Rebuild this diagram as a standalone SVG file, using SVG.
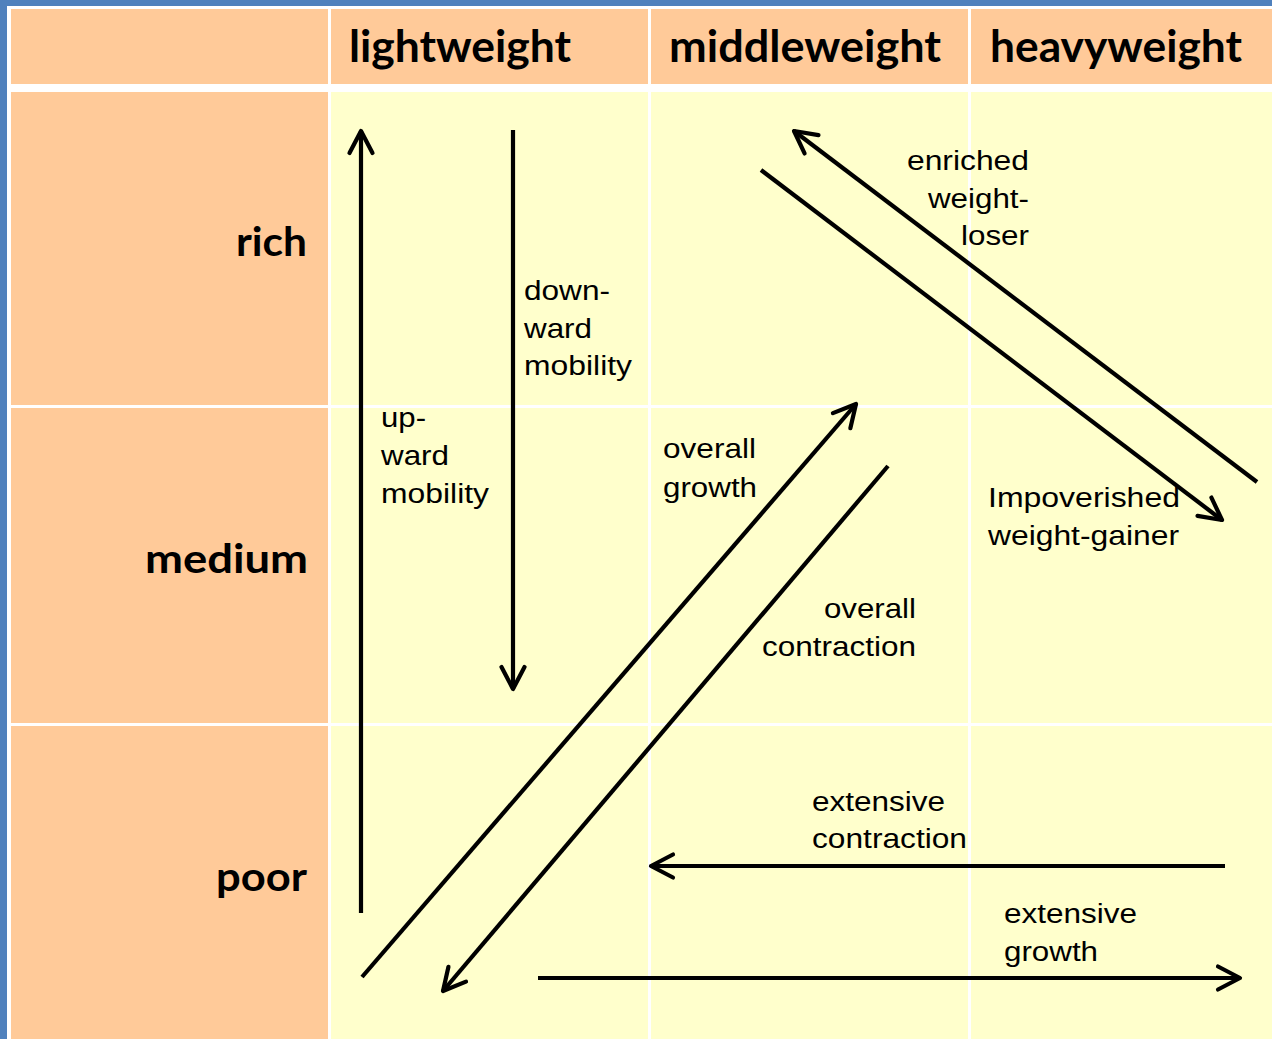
<svg xmlns="http://www.w3.org/2000/svg" width="1272" height="1039" viewBox="0 0 1272 1039">
<style>
.hd{fill:#FFCA99}
.bd{fill:#FFFFCC}
.ht{font-family:Lato,"Open Sans","Liberation Sans",sans-serif;font-weight:bold;font-size:44px;fill:#000}
.rt{font-family:Lato,"Open Sans","Liberation Sans",sans-serif;font-weight:bold;font-size:41px;fill:#000}
.lt{font-family:"Liberation Sans",Arial,sans-serif;font-size:27.5px;fill:#000}
.ar{fill:none;stroke:#000;stroke-width:4.2;marker-end:url(#ah)}
</style>
<defs>
<marker id="ah" markerUnits="userSpaceOnUse" markerWidth="40" markerHeight="40" viewBox="-30 -20 40 40" refX="0" refY="0" orient="auto">
<path d="M -22 -11.5 L 0 0 L -22 11.5" fill="none" stroke="#000" stroke-width="4.2" stroke-linecap="round" stroke-linejoin="round"/>
</marker>
</defs>
<rect x="0" y="0" width="1272" height="1039" fill="#FFFFFF"/>
<rect x="0" y="0" width="1272" height="6" fill="#4F81BD"/>
<rect x="0" y="0" width="7" height="1039" fill="#4F81BD"/>

<g id="corner"><rect class="hd" x="11" y="9" width="317" height="75"/></g>
<g id="col-lightweight"><rect class="hd" x="331" y="9" width="317" height="75"/><text class="ht" x="349" y="62" textLength="222" lengthAdjust="spacingAndGlyphs">lightweight</text></g>
<g id="col-middleweight"><rect class="hd" x="651" y="9" width="317" height="75"/><text class="ht" x="669" y="62" textLength="272" lengthAdjust="spacingAndGlyphs">middleweight</text></g>
<g id="col-heavyweight"><rect class="hd" x="971" y="9" width="301" height="75"/><text class="ht" x="990" y="62" textLength="252" lengthAdjust="spacingAndGlyphs">heavyweight</text></g>

<g id="row-rich"><rect class="hd" x="11" y="92" width="317" height="313"/><text class="rt" x="236" y="256" textLength="71" lengthAdjust="spacingAndGlyphs">rich</text></g>
<g id="row-medium"><rect class="hd" x="11" y="408" width="317" height="315"/><text class="rt" x="145" y="573" textLength="163" lengthAdjust="spacingAndGlyphs">medium</text></g>
<g id="row-poor"><rect class="hd" x="11" y="726" width="317" height="313"/><text class="rt" x="216" y="891" textLength="91" lengthAdjust="spacingAndGlyphs">poor</text></g>

<g id="cells">
<rect class="bd" x="331" y="92" width="317" height="313"/>
<rect class="bd" x="651" y="92" width="317" height="313"/>
<rect class="bd" x="971" y="92" width="301" height="313"/>
<rect class="bd" x="331" y="408" width="317" height="315"/>
<rect class="bd" x="651" y="408" width="317" height="315"/>
<rect class="bd" x="971" y="408" width="301" height="315"/>
<rect class="bd" x="331" y="726" width="317" height="313"/>
<rect class="bd" x="651" y="726" width="317" height="313"/>
<rect class="bd" x="971" y="726" width="301" height="313"/>
</g>

<g id="connectors">
<path id="upward" class="ar" d="M 361 913 L 361 131"/>
<path id="downward" class="ar" d="M 513 130 L 513 689"/>
<path id="weight-loser" class="ar" d="M 1257 482 L 794 131"/>
<path id="weight-gainer" class="ar" d="M 761 170 L 1222 520"/>
<path id="overall-growth" class="ar" d="M 362 977 L 856 404"/>
<path id="overall-contraction" class="ar" d="M 888 466 L 443 991"/>
<path id="extensive-contraction" class="ar" d="M 1225 866 L 651 866"/>
<path id="extensive-growth" class="ar" d="M 538 978 L 1240 978"/>
</g>

<g id="labels">
<g id="lbl-enriched">
<text class="lt" x="907" y="170" textLength="122" lengthAdjust="spacingAndGlyphs">enriched</text>
<text class="lt" x="928" y="208" textLength="101" lengthAdjust="spacingAndGlyphs">weight-</text>
<text class="lt" x="961" y="245" textLength="68" lengthAdjust="spacingAndGlyphs">loser</text>
</g>
<g id="lbl-downward">
<text class="lt" x="524" y="300" textLength="86" lengthAdjust="spacingAndGlyphs">down-</text>
<text class="lt" x="524" y="338" textLength="68" lengthAdjust="spacingAndGlyphs">ward</text>
<text class="lt" x="524" y="375" textLength="108" lengthAdjust="spacingAndGlyphs">mobility</text>
</g>
<g id="lbl-upward">
<text class="lt" x="381" y="427" textLength="45" lengthAdjust="spacingAndGlyphs">up-</text>
<text class="lt" x="381" y="465" textLength="68" lengthAdjust="spacingAndGlyphs">ward</text>
<text class="lt" x="381" y="503" textLength="108" lengthAdjust="spacingAndGlyphs">mobility</text>
</g>
<g id="lbl-overall-growth">
<text class="lt" x="663" y="458" textLength="93" lengthAdjust="spacingAndGlyphs">overall</text>
<text class="lt" x="663" y="497" textLength="94" lengthAdjust="spacingAndGlyphs">growth</text>
</g>
<g id="lbl-impoverished">
<text class="lt" x="988" y="507" textLength="192" lengthAdjust="spacingAndGlyphs">Impoverished</text>
<text class="lt" x="988" y="545" textLength="191" lengthAdjust="spacingAndGlyphs">weight-gainer</text>
</g>
<g id="lbl-overall-contraction">
<text class="lt" x="824" y="618" textLength="92" lengthAdjust="spacingAndGlyphs">overall</text>
<text class="lt" x="762" y="656" textLength="154" lengthAdjust="spacingAndGlyphs">contraction</text>
</g>
<g id="lbl-extensive-contraction">
<text class="lt" x="812" y="811" textLength="133" lengthAdjust="spacingAndGlyphs">extensive</text>
<text class="lt" x="812" y="848" textLength="155" lengthAdjust="spacingAndGlyphs">contraction</text>
</g>
<g id="lbl-extensive-growth">
<text class="lt" x="1004" y="923" textLength="133" lengthAdjust="spacingAndGlyphs">extensive</text>
<text class="lt" x="1004" y="961" textLength="94" lengthAdjust="spacingAndGlyphs">growth</text>
</g>
</g>
</svg>
